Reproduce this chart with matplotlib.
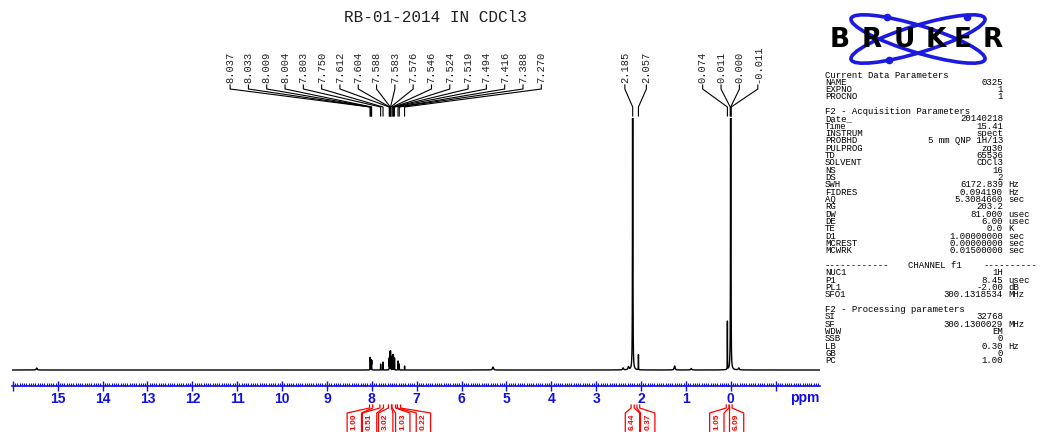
import matplotlib
matplotlib.use("Agg")
import matplotlib.pyplot as plt
import matplotlib.transforms as mtransforms
from matplotlib.patches import Ellipse
import numpy as np

W, H = 1040, 432

# ---- data ----
peak_ppm = [8.037, 8.033, 8.009, 8.004, 7.803, 7.750, 7.612, 7.604, 7.588, 7.583,
            7.576, 7.546, 7.524, 7.519, 7.494, 7.416, 7.388, 7.270,
            2.185, 2.057, 0.074, 0.011, 0.000, -0.011]
peak_height = [11, 11, 9, 9, 6, 8, 11, 13, 17, 17,
               13, 9, 14, 14, 12, 9, 6, 4,
               2000, 15, 48, 6, 2000, 15]
small_ppm = [15.47, 5.30, 2.40, 2.28, 1.25, 0.88, -0.18]
small_height = [2, 3, 2, 3, 4, 1.5, 2]

label_groups = [
    ["8.037", "8.033", "8.009", "8.004", "7.803", "7.750", "7.612", "7.604", "7.588",
     "7.583", "7.576", "7.546", "7.524", "7.519", "7.494", "7.416", "7.388", "7.270"],
    ["2.185", "2.057"],
    ["0.074", "0.011", "0.000", "-0.011"],
]
label_centers = [7.69, 2.12, 0.011]
label_spacing = [0.408, 0.48, 0.41]

integral_values = ["1.00", "0.51", "3.02", "1.03", "0.22", "6.44", "0.37", "1.05", "6.09"]
integral_regions = [(8.05, 7.98), (7.82, 7.74), (7.63, 7.56), (7.55, 7.47), (7.43, 7.36),
                    (2.22, 2.15), (2.09, 2.03), (0.10, 0.04), (0.03, -0.03)]
integral_centers = [8.39, 8.05, 7.69, 7.31, 6.85, 2.19, 1.85, 0.31, -0.13]

params = [
    ("Current Data Parameters", "", ""),
    ("NAME", "0325", ""), ("EXPNO", "1", ""), ("PROCNO", "1", ""), None,
    ("F2 - Acquisition Parameters", "", ""),
    ("Date_", "20140218", ""), ("Time", "15.41", ""), ("INSTRUM", "spect", ""),
    ("PROBHD", "5 mm QNP 1H/13", ""), ("PULPROG", "zg30", ""), ("TD", "65536", ""),
    ("SOLVENT", "CDCl3", ""), ("NS", "16", ""), ("DS", "2", ""),
    ("SWH", "6172.839", "Hz"), ("FIDRES", "0.094190", "Hz"), ("AQ", "5.3084660", "sec"),
    ("RG", "203.2", ""), ("DW", "81.000", "usec"), ("DE", "6.00", "usec"),
    ("TE", "0.0", "K"), ("D1", "1.00000000", "sec"), ("MCREST", "0.00000000", "sec"),
    ("MCWRK", "0.01500000", "sec"), None,
    "CHANNEL",
    ("NUC1", "1H", ""), ("P1", "8.45", "usec"), ("PL1", "-2.00", "dB"),
    ("SFO1", "300.1318534", "MHz"), None,
    ("F2 - Processing parameters", "", ""),
    ("SI", "32768", ""), ("SF", "300.1300029", "MHz"), ("WDW", "EM", ""),
    ("SSB", "0", ""), ("LB", "0.30", "Hz"), ("GB", "0", ""), ("PC", "1.00", ""),
]


def fx(x):
    return x / W


def fy(y):
    return 1 - y / H


fig = plt.figure(figsize=(W / 100, H / 100), dpi=100)
mono = "Liberation Mono"
blue = "#1010e0"

# ---- spectrum ----
ax = fig.add_axes([fx(12), fy(372), (820 - 12) / W, (372 - 118) / H])
ppm = np.linspace(16.02, -1.99, 40000)
spec = np.zeros_like(ppm)
for p, h in zip(peak_ppm, peak_height):
    spec += h / (1 + ((ppm - p) / 0.0016) ** 2)
for p, h in zip(small_ppm, small_height):
    spec += h / (1 + ((ppm - p) / 0.012) ** 2)
ax.plot(ppm, spec, color="black", lw=1.0)
ax.set_xlim(16.02, -1.99)
ax.set_ylim(-2, 252)
ax.patch.set_visible(False)
for s in ["top", "left", "right"]:
    ax.spines[s].set_visible(False)
ax.spines["bottom"].set_position(("outward", 13.5 * 0.72))
ax.spines["bottom"].set_color(blue)
ax.spines["bottom"].set_linewidth(1.2)
ax.set_yticks([])
ax.set_xticks(np.arange(-1, 17))
ax.set_xticklabels([str(t) if 0 <= t <= 15 else "" for t in range(-1, 17)],
                   fontfamily="Liberation Sans", fontweight="bold", fontsize=10)
ax.set_xticks(np.arange(-1.95, 16.0, 0.05), minor=True)
ax.tick_params(axis="x", which="major", direction="inout", length=7, width=1,
               color=blue, labelcolor=blue, pad=1)
ax.tick_params(axis="x", which="minor", direction="in", length=2.5, width=0.8, color=blue)
fig.text(fx(805), fy(398), "ppm", color=blue, fontfamily="Liberation Sans",
         fontweight="bold", fontsize=10, ha="center", va="center")

trans = mtransforms.blended_transform_factory(ax.transData, fig.transFigure)

# ---- peak labels with fan lines ----
for labels, c, sp in zip(label_groups, label_centers, label_spacing):
    n = len(labels)
    for i, lab in enumerate(labels):
        lx = c + sp * ((n - 1) / 2 - i)
        px = float(lab)
        fig.text(lx, fy(83), lab, transform=trans, rotation=90, ha="center", va="bottom",
                 fontfamily=mono, fontsize=7.5, color="#202020")
        fig.lines.append(plt.Line2D([lx, lx, px, px], [fy(85), fy(89), fy(107), fy(116)],
                                    transform=trans, color="black", lw=0.8))

# ---- integrals ----
hw = 0.16
for val, (r1, r2), c in zip(integral_values, integral_regions, integral_centers):
    fig.lines.append(plt.Line2D([r1, r1, c + hw, c + hw], [fy(405), fy(408), fy(413), fy(440)],
                                transform=trans, color="red", lw=0.9))
    fig.lines.append(plt.Line2D([r2, r2, c - hw, c - hw], [fy(405), fy(408), fy(413), fy(440)],
                                transform=trans, color="red", lw=0.9))
    fig.text(c, fy(421.5), val, transform=trans, rotation=90, ha="center", va="center",
             fontfamily="Liberation Sans", fontweight="bold", fontsize=6, color="red")

# ---- title ----
fig.text(fx(435), fy(18), "RB-01-2014 IN CDCl3", fontfamily=mono, fontsize=11.5,
         ha="center", va="center", color="#202020")

# ---- Bruker logo ----
logo = fig.add_axes([fx(820), fy(66), 200 / W, 62 / H])
logo.set_xlim(820, 1020)
logo.set_ylim(66, 4)
logo.axis("off")
for ang in (17, -17):
    logo.add_patch(Ellipse((918, 39), 140, 27, angle=ang, fill=False, ec="#1a1ae0", lw=2.6))
logo.plot([887, 967, 889], [17, 17, 60], "o", color="#1a1ae0", ms=4.5)
for ch, cx in zip("BRUKER", [840, 872, 904, 936, 963, 993]):
    logo.text(cx, 40, ch, ha="center", va="center", fontfamily="DejaVu Sans",
              fontweight="heavy", fontsize=19, color="black")

# ---- parameter panel ----
for k, row in enumerate(params):
    y = fy(75 + 7.33 * k)
    if row is None:
        continue
    if row == "CHANNEL":
        fig.text(fx(825), y, "-" * 12, fontfamily=mono, fontsize=6.5, va="center")
        fig.text(fx(935), y, "CHANNEL f1", fontfamily=mono, fontsize=6.5, va="center", ha="center")
        fig.text(fx(984), y, "-" * 10, fontfamily=mono, fontsize=6.5, va="center")
        continue
    name, value, unit = row
    fig.text(fx(825), y, name, fontfamily=mono, fontsize=6.5, va="center")
    if value:
        fig.text(fx(1003), y, value, fontfamily=mono, fontsize=6.5, va="center", ha="right")
    if unit:
        fig.text(fx(1008), y, unit, fontfamily=mono, fontsize=6.5, va="center")

fig.savefig("out.png", dpi=100)
